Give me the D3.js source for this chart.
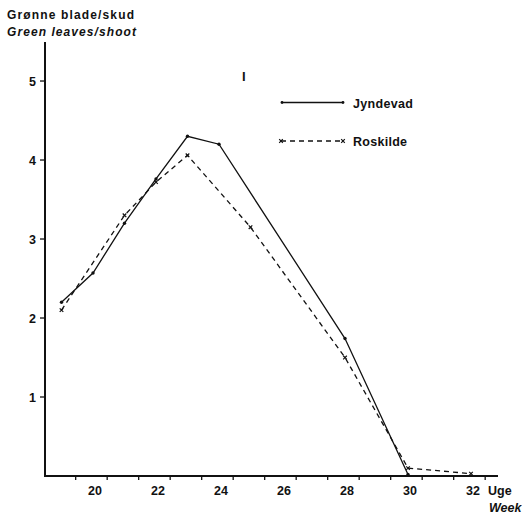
<!DOCTYPE html>
<html>
<head>
<meta charset="utf-8">
<script src="https://cdn.jsdelivr.net/npm/d3@7"></script>
<style>
	html, body { margin: 0; padding: 0; background: #fff; }
	#app { width: 522px; height: 515px; }
	text { font-family: "Liberation Sans", Arial, sans-serif; font-weight: bold; fill: #111; }
</style>
</head>
<body>
<div id="app"></div>
<script>
const appSelector = "#app";

// weeks and green leaves per shoot
const jyndevadWeeks = [19, 20, 21, 22, 23, 24, 28, 30];
const jyndevadValues = [2.2, 2.57, 3.2, 3.76, 4.3, 4.2, 1.74, 0.02];
const roskildeWeeks = [19, 21, 22, 23, 25, 28, 30, 32];
const roskildeValues = [2.1, 3.3, 3.72, 4.06, 3.15, 1.5, 0.1, 0.03];

const yTicks = [1, 2, 3, 4, 5];
const xLabels = [20, 22, 24, 26, 28, 30, 32];
const xMinorTicks = [19, 20, 21, 22, 23, 24, 25, 26, 27, 28, 29, 30, 31, 32];

function draw(){
	let svg = d3.select(appSelector).append("svg")
		.attr("width", 522)
		.attr("height", 515);

	let x = d3.scaleLinear().domain([18.476, 32.857]).range([45, 498]),
		y = d3.scaleLinear().domain([0, 5.494]).range([476, 42]);

	// y axis
	svg.append("line")
		.attr("x1", x(18.476)).attr("x2", x(18.476))
		.attr("y1", y(5.494)).attr("y2", y(0))
		.attr("stroke", "#111").attr("stroke-width", 2);
	svg.selectAll("line.ytick").data(yTicks).enter().append("line")
		.attr("class", "ytick")
		.attr("x1", 40).attr("x2", 45)
		.attr("y1", d => y(d)).attr("y2", d => y(d))
		.attr("stroke", "#111").attr("stroke-width", 1.3);
	svg.selectAll("text.ylab").data(yTicks).enter().append("text")
		.attr("class", "ylab")
		.attr("x", 36).attr("y", d => y(d) + 4.5)
		.attr("text-anchor", "end")
		.style("font-size", "12.5px")
		.text(d => d);

	// x axis
	svg.append("line")
		.attr("x1", 44).attr("x2", x(32.857))
		.attr("y1", y(0)).attr("y2", y(0))
		.attr("stroke", "#111").attr("stroke-width", 2);
	svg.selectAll("line.xtick").data(xMinorTicks).enter().append("line")
		.attr("class", "xtick")
		.attr("x1", d => x(d + 0.45)).attr("x2", d => x(d + 0.45))
		.attr("y1", y(0)).attr("y2", y(0) + 4)
		.attr("stroke", "#111").attr("stroke-width", 1.3);
	svg.selectAll("text.xlab").data(xLabels).enter().append("text")
		.attr("class", "xlab")
		.attr("x", d => x(d) + 2).attr("y", 494.5)
		.attr("text-anchor", "middle")
		.style("font-size", "12.5px")
		.text(d => d);

	svg.append("text").attr("x", 488).attr("y", 494.5)
		.style("font-size", "12.5px").text("Uge");
	svg.append("text").attr("x", 489).attr("y", 512)
		.style("font-size", "12.5px").style("font-style", "italic").text("Week");

	svg.append("text").attr("x", 7).attr("y", 19)
		.attr("textLength", 127).attr("lengthAdjust", "spacing")
		.style("font-size", "12px").text("Grønne blade/skud");
	svg.append("text").attr("x", 7).attr("y", 36)
		.attr("textLength", 129).attr("lengthAdjust", "spacing")
		.style("font-size", "12px").style("font-style", "italic").text("Green leaves/shoot");

	svg.append("text").attr("x", 242).attr("y", 81)
		.style("font-size", "13px").text("I");

	let line = d3.line().x(d => x(d[0])).y(d => y(d[1]));
	let jPts = d3.zip(jyndevadWeeks, jyndevadValues),
		rPts = d3.zip(roskildeWeeks, roskildeValues);

	svg.append("path").datum(jPts)
		.attr("d", line)
		.attr("fill", "none").attr("stroke", "#111").attr("stroke-width", 1.3);
	svg.append("path").datum(rPts)
		.attr("d", line)
		.attr("fill", "none").attr("stroke", "#111").attr("stroke-width", 1.3)
		.attr("stroke-dasharray", "5,4");

	svg.selectAll("circle.jpt").data(jPts).enter().append("circle")
		.attr("class", "jpt")
		.attr("cx", d => x(d[0])).attr("cy", d => y(d[1]))
		.attr("r", 1.7).attr("fill", "#111");
	svg.selectAll("path.rpt").data(rPts).enter().append("path")
		.attr("class", "rpt")
		.attr("transform", d => "translate(" + x(d[0]) + "," + y(d[1]) + ")")
		.attr("d", "M-1.8,-1.8L1.8,1.8M-1.8,1.8L1.8,-1.8")
		.attr("stroke", "#111").attr("stroke-width", 1.2);

	// legend
	let lg = svg.append("g");
	lg.append("line").attr("x1", 282).attr("x2", 343).attr("y1", 102.5).attr("y2", 102.5)
		.attr("stroke", "#111").attr("stroke-width", 1.3);
	lg.selectAll("circle").data([282, 343]).enter().append("circle")
		.attr("cx", d => d).attr("cy", 102.5).attr("r", 1.4).attr("fill", "#111");
	lg.append("text").attr("x", 353).attr("y", 107.5)
		.attr("textLength", 60).attr("lengthAdjust", "spacing")
		.style("font-size", "12.5px").text("Jyndevad");

	lg.append("line").attr("x1", 281).attr("x2", 343).attr("y1", 141).attr("y2", 141)
		.attr("stroke", "#111").attr("stroke-width", 1.3)
		.attr("stroke-dasharray", "5,4");
	lg.selectAll("path.lx").data([281, 343]).enter().append("path")
		.attr("class", "lx")
		.attr("transform", d => "translate(" + d + ",141)")
		.attr("d", "M-1.8,-1.8L1.8,1.8M-1.8,1.8L1.8,-1.8")
		.attr("stroke", "#111").attr("stroke-width", 1.2);
	lg.append("text").attr("x", 353).attr("y", 145.5)
		.attr("textLength", 54).attr("lengthAdjust", "spacing")
		.style("font-size", "12.5px").text("Roskilde");
}

draw();
</script>
</body>
</html>
